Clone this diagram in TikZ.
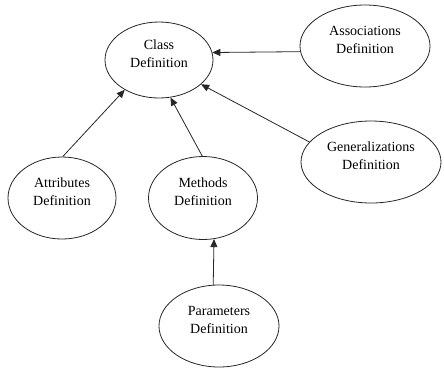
\documentclass[tikz,border=0pt]{standalone}
\usepackage{fontspec}
\setmainfont{Liberation Serif}
\usetikzlibrary{shapes.geometric,arrows.meta}
\begin{document}
\begin{tikzpicture}[x=1pt,y=-1pt,
  defbox/.style={ellipse, draw=black!85, line width=0.8pt, inner sep=0pt,
    align=center, font=\fontsize{14}{18}\selectfont, text depth=12pt},
  arr/.style={draw=black!85, line width=0.8pt, -{Triangle[length=8pt,width=7pt]}}]
  \useasboundingbox (0,0) rectangle (444,368);
  % definition nodes
  \node[defbox, minimum width=108pt, minimum height=76pt] (class) at (159,60) {Class\\Definition};
  \node[defbox, minimum width=130pt, minimum height=82pt] (assoc) at (365,46) {Associations\\Definition};
  \node[defbox, minimum width=140pt, minimum height=82pt] (gen) at (371,162) {Generalizations\\Definition};
  \node[defbox, minimum width=108pt, minimum height=82pt] (attr) at (62,198) {Attributes\\Definition};
  \node[defbox, minimum width=109pt, minimum height=83pt] (meth) at (203,198) {Methods\\Definition};
  \node[defbox, minimum width=120pt, minimum height=82pt] (param) at (219,326) {Parameters\\Definition};
  % dependencies
  \draw[arr] (assoc.185) -- (class.8.6);
  \draw[arr] (attr.89) -- (class.221);
  \draw[arr] (meth.91) -- (class.287);
  \draw[arr] (gen.162) -- (class.330);
  \draw[arr] (param.98) -- (meth.285);
\end{tikzpicture}
\end{document}
